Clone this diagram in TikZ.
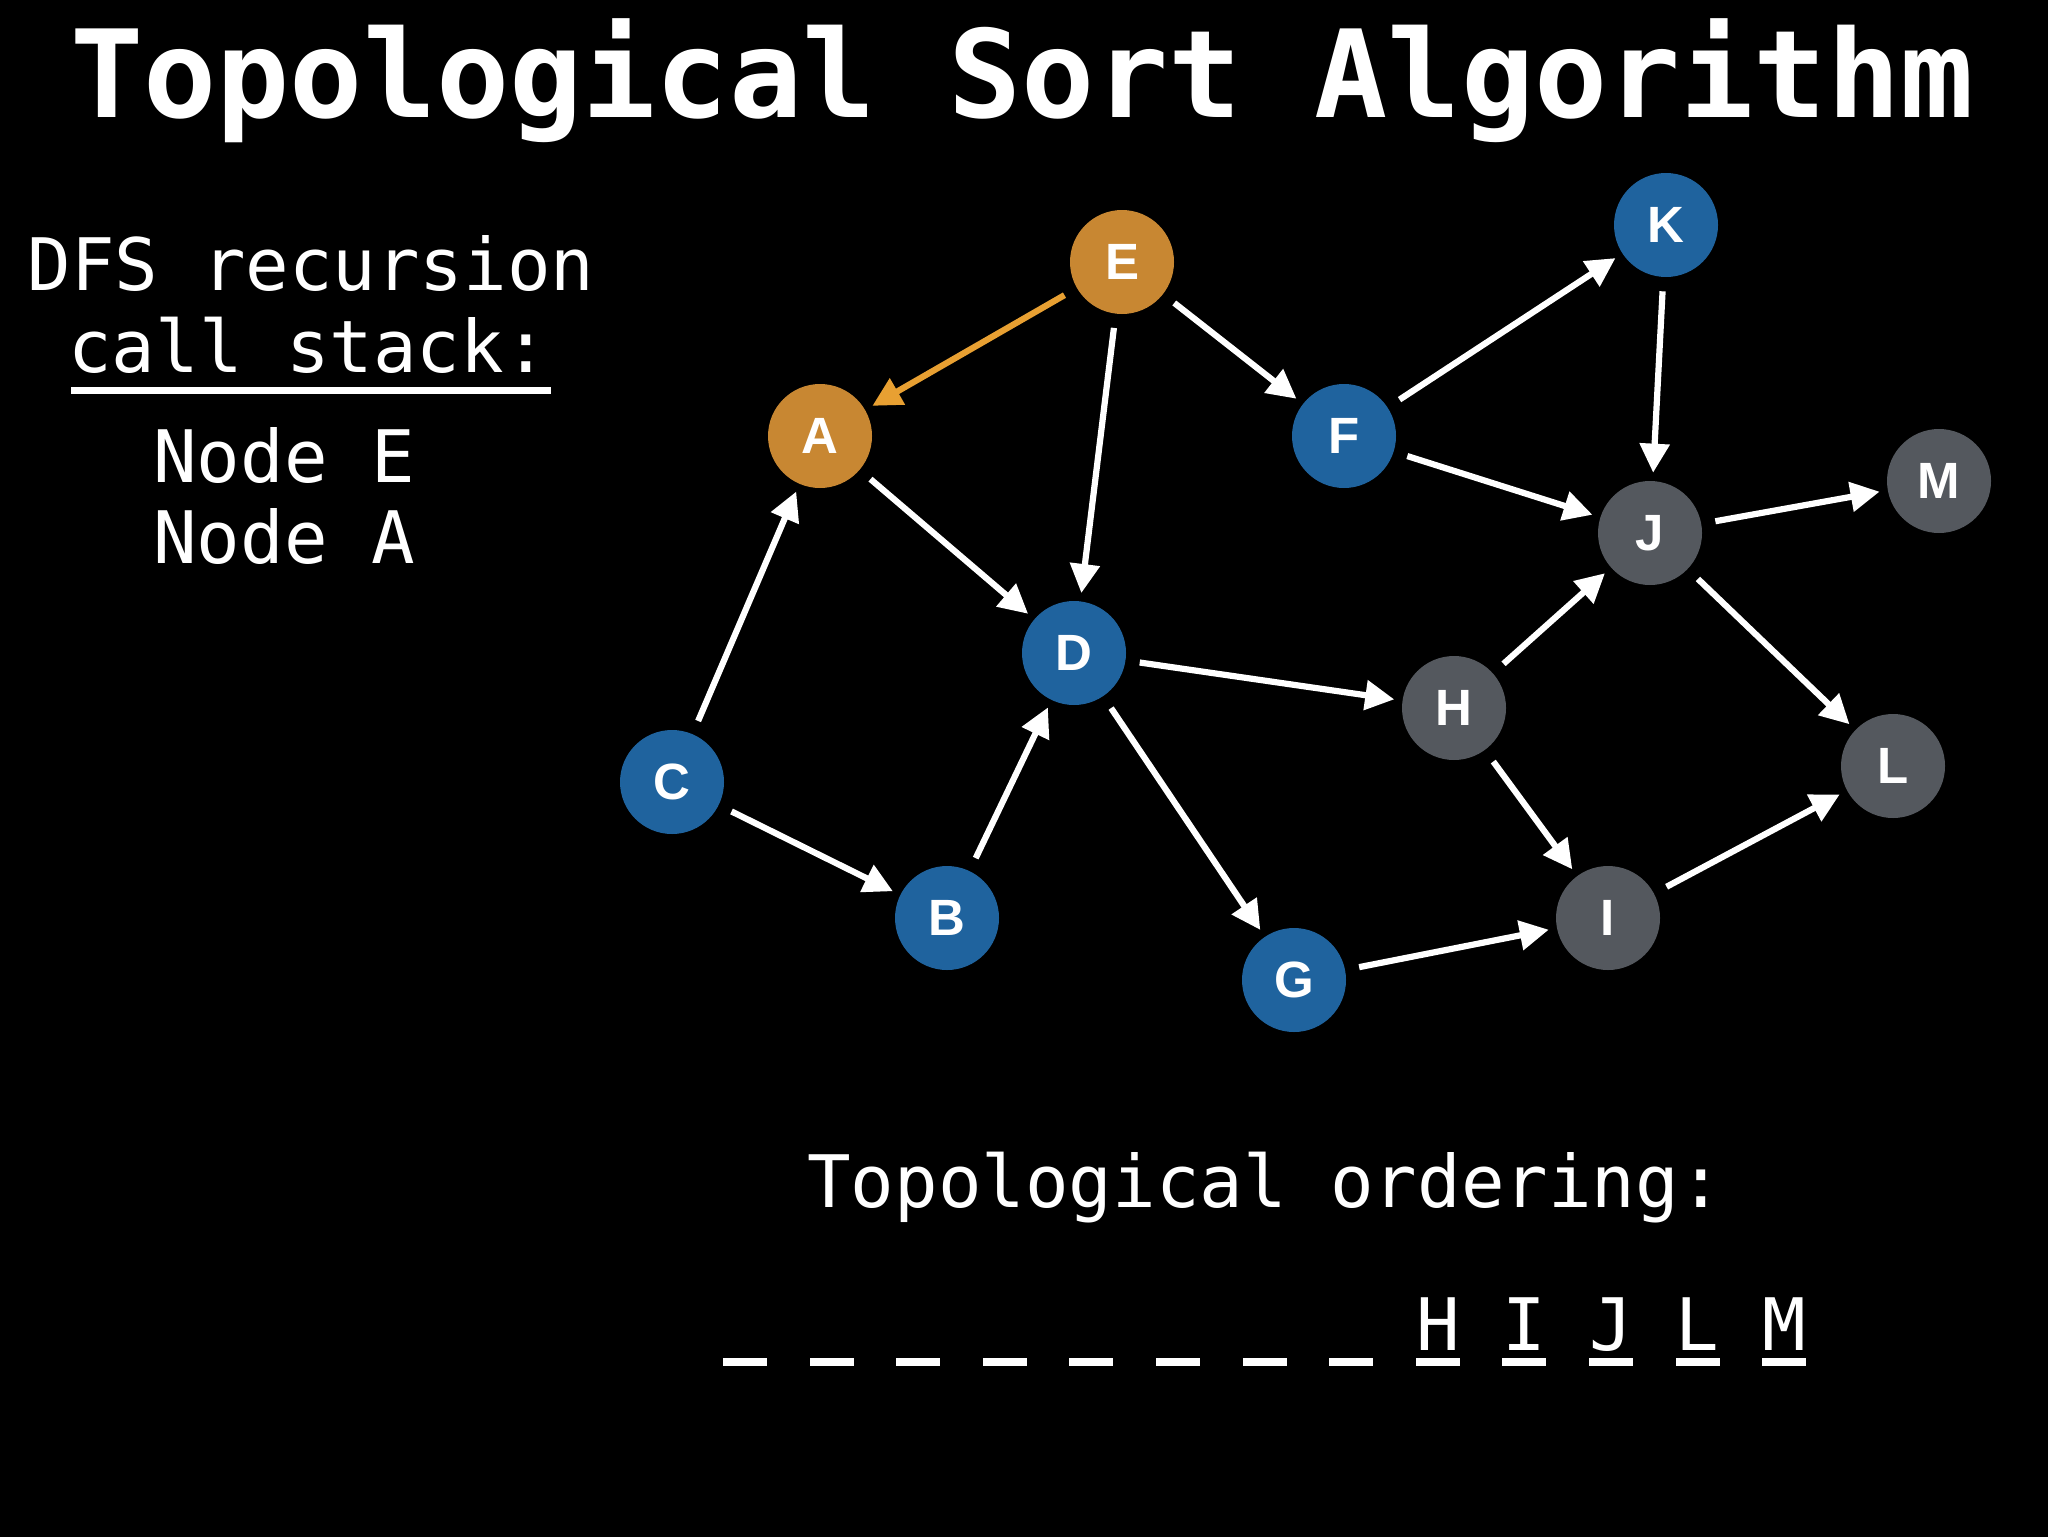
\documentclass[tikz,border=0pt]{standalone}
\usepackage{fontspec}
\setmonofont{DejaVu Sans Mono}
\newfontfamily\labelfont{Liberation Sans}
\usetikzlibrary{arrows.meta}
\definecolor{nblue}{RGB}{31,99,158}
\definecolor{norange}{RGB}{200,135,50}
\definecolor{ngrey}{RGB}{84,88,94}
\definecolor{eorange}{RGB}{232,160,50}
\tikzset{
  vtx/.style={circle, minimum size=52pt, inner sep=0pt, text=white,
    font=\labelfont\bfseries\fontsize{25.5}{25.5}\selectfont},
  bluev/.style={vtx, fill=nblue},
  orangev/.style={vtx, fill=norange},
  greyv/.style={vtx, fill=ngrey},
  edge/.style={draw=white, line width=3.1pt, shorten <=7pt, shorten >=4pt,
    -{Triangle[length=14.5pt,width=14.5pt]}},
  hotedge/.style={edge, draw=eorange},
  txt/.style={text=white, inner sep=0pt, font=\ttfamily\fontsize{36.2}{40}\selectfont}
}
\begin{document}
\begin{tikzpicture}[x=0.5pt, y=-0.5pt]
\useasboundingbox (0,0) rectangle (2048,1536);
\fill[black] (-2,-2) rectangle (2050,1538);

% title
\node[anchor=base, text=white, inner sep=0pt, font=\ttfamily\bfseries\fontsize{60.8}{66}\selectfont] (title) at (1022,118) {Topological Sort Algorithm};

% call stack
\node[txt, anchor=base] (dfs) at (311,290) {DFS recursion};
\node[txt, anchor=base] (cs) at (308,372) {call stack:};
\fill[white] (71,386.5) rectangle (551,393.5);
\node[txt, anchor=base west] (s1) at (153,482) {Node E};
\node[txt, anchor=base west] (s2) at (153,563) {Node A};

% graph nodes
\node[orangev] (E) at (1122,262) {E};
\node[orangev] (A) at (820,436) {A};
\node[bluev] (F) at (1344,436) {F};
\node[bluev] (K) at (1666,225) {K};
\node[greyv] (J) at (1650,533) {J};
\node[greyv] (M) at (1939,481) {M};
\node[bluev] (D) at (1074,653) {D};
\node[greyv] (H) at (1454,708) {H};
\node[greyv] (L) at (1893,766) {L};
\node[bluev] (C) at (672,782) {C};
\node[bluev] (B) at (947,918) {B};
\node[greyv] (I) at (1608,918) {I};
\node[bluev] (G) at (1294,980) {G};

% edges
\draw[hotedge] (E) -- (A);
\draw[edge] (E) -- (D);
\draw[edge] (E) -- (F);
\draw[edge] (A) -- (D);
\draw[edge] (C) -- (A);
\draw[edge] (C) -- (B);
\draw[edge] (B) -- (D);
\draw[edge] (D) -- (H);
\draw[edge] (D) -- (G);
\draw[edge] (F) -- (K);
\draw[edge] (F) -- (J);
\draw[edge] (K) -- (J);
\draw[edge] (J) -- (M);
\draw[edge] (J) -- (L);
\draw[edge] (H) -- (J);
\draw[edge] (H) -- (I);
\draw[edge] (G) -- (I);
\draw[edge] (I) -- (L);

% topological ordering
\node[txt, anchor=base, font=\ttfamily\fontsize{36.2}{40}\selectfont] (tord) at (1265,1207) {Topological ordering:};
\foreach \i in {0,...,12} {
  \fill[white] ({723+\i*86.6},1358) rectangle ({767+\i*86.6},1366);
}
\node[txt, anchor=base] (oH) at ({745+8*86.6},1350) {H};
\node[txt, anchor=base] (oI) at ({745+9*86.6},1350) {I};
\node[txt, anchor=base] (oJ) at ({745+10*86.6},1350) {J};
\node[txt, anchor=base] (oL) at ({745+11*86.6},1350) {L};
\node[txt, anchor=base] (oM) at ({745+12*86.6},1350) {M};
\end{tikzpicture}
\end{document}
